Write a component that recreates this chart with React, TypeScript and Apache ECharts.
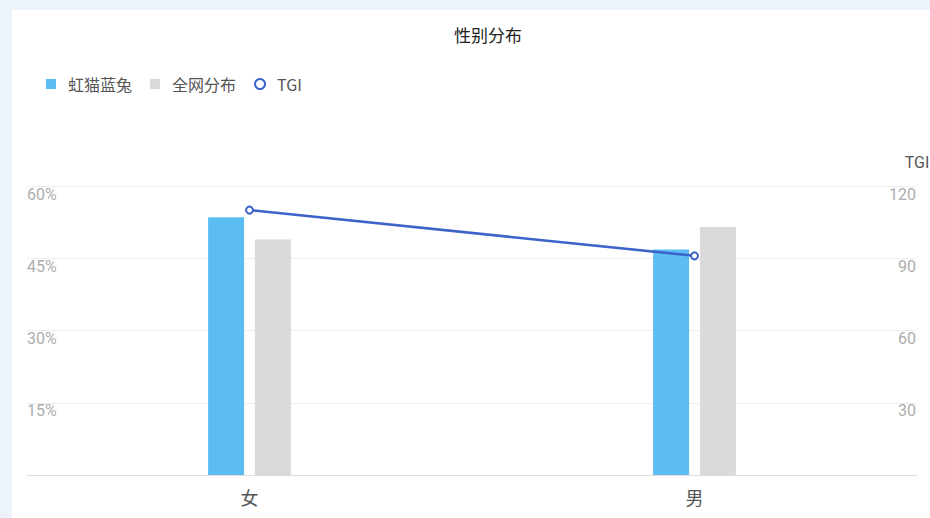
import React, { useEffect, useRef } from "react";
import * as echarts from "echarts";

const categories = ["女", "男"];
const brandShare = [53.5, 46.8];
const overallShare = [48.9, 51.5];
const tgiValues = [110, 91];
const leftTicks = { min: 0, max: 60, interval: 15 };
const rightTicks = { min: 0, max: 120, interval: 30 };

export default function App() {
  const ref = useRef<HTMLDivElement>(null);
  useEffect(() => {
    if (!ref.current) return;
    const chart = echarts.init(ref.current, undefined, { renderer: "svg" });
    const font = "'Noto Sans CJK SC', 'Noto Sans', sans-serif";
    chart.setOption({
      animation: false,
      backgroundColor: "#ffffff",
      textStyle: { fontFamily: font },
      title: {
        text: "性别分布",
        left: 437,
        top: 11,
        textStyle: { fontSize: 17, fontWeight: "normal", color: "#222", fontFamily: font },
      },
      legend: {
        left: 29,
        top: 61,
        itemWidth: 10,
        itemHeight: 10,
        itemGap: 18,
        textStyle: { fontSize: 16, color: "#555", padding: [0, 0, 0, 7], fontFamily: font },
        data: [
          { name: "虹猫蓝兔", icon: "rect" },
          { name: "全网分布", icon: "rect" },
          { name: "TGI", icon: "emptyCircle" },
        ],
      },
      grid: { left: 15, right: 13, top: 176, bottom: 43, outerBoundsMode: "none", containLabel: false },
      xAxis: {
        type: "category",
        data: categories,
        axisTick: { show: false },
        axisLine: { lineStyle: { color: "#dddddd" } },
        axisLabel: { color: "#555", fontSize: 18, margin: 13, fontFamily: font },
      },
      yAxis: [
        {
          type: "value",
          ...leftTicks,
          axisLine: { show: false },
          axisTick: { show: false },
          axisLabel: {
            inside: true,
            margin: 0,
            showMinLabel: false,
            formatter: "{value}%",
            verticalAlign: "top",
            color: "#adadad",
            fontSize: 16,
            fontFamily: "Roboto, sans-serif",
          },
          splitLine: { lineStyle: { color: "#eeeeee" } },
        },
        {
          type: "value",
          ...rightTicks,
          name: "TGI",
          nameGap: 16,
          nameTextStyle: {
            color: "#555",
            fontSize: 16,
            fontFamily: "Roboto, sans-serif",
          },
          axisLine: { show: false },
          axisTick: { show: false },
          axisLabel: {
            inside: true,
            margin: 1,
            showMinLabel: false,
            verticalAlign: "top",
            color: "#adadad",
            fontSize: 16,
            fontFamily: "Roboto, sans-serif",
          },
          splitLine: { show: false },
        },
      ],
      series: [
        {
          name: "虹猫蓝兔",
          type: "bar",
          data: brandShare,
          barWidth: 36,
          barGap: "30%",
          itemStyle: { color: "#5cbdf3" },
        },
        {
          name: "全网分布",
          type: "bar",
          data: overallShare,
          barWidth: 36,
          itemStyle: { color: "#dadada" },
        },
        {
          name: "TGI",
          type: "line",
          yAxisIndex: 1,
          data: tgiValues,
          symbol: "emptyCircle",
          symbolSize: 7,
          lineStyle: { color: "#3d63c9", width: 2.5 },
          itemStyle: { color: "#3d63c9", borderWidth: 2 },
        },
      ],
    });
    return () => chart.dispose();
  }, []);
  return (
    <div
      style={{
        position: "fixed",
        left: 0,
        top: 0,
        width: 930,
        height: 518,
        background: "#edf3fb",
      }}
    >
      <div
        ref={ref}
        style={{ position: "absolute", left: 12, top: 10, width: 918, height: 508 }}
      />
    </div>
  );
}
